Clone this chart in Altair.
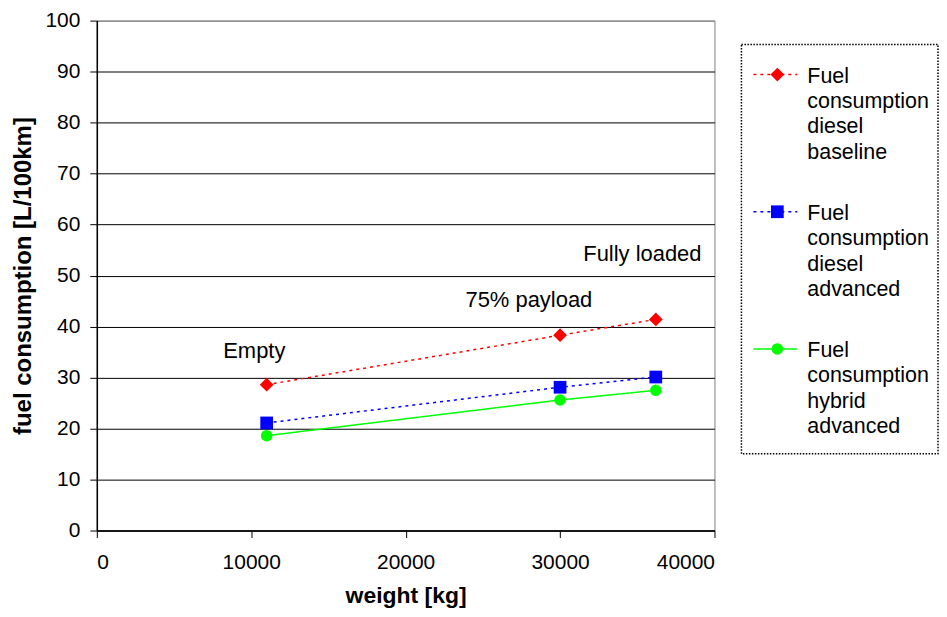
import altair as alt
import pandas as pd

# ---- data ----
weights = [11000, 30000, 36200]
series_names = [
    "Fuel consumption diesel baseline",
    "Fuel consumption diesel advanced",
    "Fuel consumption hybrid advanced",
]
diesel_baseline = [28.6, 38.3, 41.4]
diesel_advanced = [21.1, 28.1, 30.1]
hybrid_advanced = [18.6, 25.6, 27.5]

series_colors = ["#ff0000", "#0000ff", "#00ff00"]
series_shapes = ["diamond", "square", "circle"]
series_sizes = [190, 135, 125]
series_dashes = [[3, 4], [3, 4], [1, 0]]
series_widths = [1.5, 1.5, 2]

annot_text = ["Empty", "75% payload", "Fully loaded"]
annot_x = [10200, 27980, 35330]
annot_y = [35.3, 45.2, 54.2]

x_ticks = [0, 10000, 20000, 30000, 40000]
y_ticks = [0, 10, 20, 30, 40, 50, 60, 70, 80, 90, 100]

FONT = "Liberation Sans"

rows = []
for name, vals in zip(series_names, [diesel_baseline, diesel_advanced, hybrid_advanced]):
    for w, v in zip(weights, vals):
        rows.append({"series": name, "weight": w, "fuel": v})
df = pd.DataFrame(rows)

ann = pd.DataFrame({"text": annot_text, "weight": annot_x, "fuel": annot_y})

leg = pd.DataFrame({"series": series_names, "idx": list(range(len(series_names)))})

color_scale = alt.Scale(domain=series_names, range=series_colors)
shape_scale = alt.Scale(domain=series_names, range=series_shapes)
size_scale = alt.Scale(domain=series_names, range=series_sizes)
dash_scale = alt.Scale(domain=series_names, range=series_dashes)
width_scale = alt.Scale(domain=series_names, range=series_widths)

x_enc = alt.X(
    "weight:Q",
    title="weight [kg]",
    scale=alt.Scale(domain=[0, 40000], nice=False),
    axis=alt.Axis(
        values=x_ticks, grid=False, format="d", titleFontSize=23,
        labelPadding=14, titlePadding=12,
    ),
)
y_enc = alt.Y(
    "fuel:Q",
    title="fuel consumption [L/100km]",
    scale=alt.Scale(domain=[0, 100], nice=False),
    axis=alt.Axis(
        values=y_ticks,
        grid=True,
        titleFontSize=24,
        labelPadding=10,
        titlePadding=9,
        gridColor=alt.condition("datum.value == 100", alt.value("#808080"), alt.value("black")),
    ),
)

lines = alt.Chart(df).mark_line().encode(
    x=x_enc,
    y=y_enc,
    color=alt.Color("series:N", scale=color_scale, legend=None),
    strokeDash=alt.StrokeDash("series:N", scale=dash_scale, legend=None),
    strokeWidth=alt.StrokeWidth("series:N", scale=width_scale, legend=None),
    detail="series:N",
)

points = alt.Chart(df).mark_point(filled=True, opacity=1).encode(
    x="weight:Q",
    y="fuel:Q",
    color=alt.Color("series:N", scale=color_scale, legend=None),
    shape=alt.Shape("series:N", scale=shape_scale, legend=None),
    size=alt.Size("series:N", scale=size_scale, legend=None),
)

labels = alt.Chart(ann).mark_text(
    font=FONT, fontSize=22, color="black", align="center", baseline="middle"
).encode(x="weight:Q", y="fuel:Q", text="text:N")

main = alt.layer(lines, points, labels).properties(
    width=619, height=511, view=alt.ViewBackground(stroke="#808080", strokeWidth=1)
)

# ---- legend panel ----
leg_y = alt.Y(
    "idx:Q",
    axis=None,
    scale=alt.Scale(domain=[-0.393, 2.807], reverse=True, nice=False, zero=False),
)

frame = alt.Chart(pd.DataFrame({"a": [0]})).mark_rect(
    fill="white", stroke="black", strokeWidth=1.5, strokeDash=[1.5, 1.5]
).encode(x=alt.value(0), x2=alt.value(197), y=alt.value(24), y2=alt.value(434))

leg_rule = alt.Chart(leg).mark_rule().encode(
    x=alt.value(12),
    x2=alt.value(56),
    y=leg_y,
    color=alt.Color("series:N", scale=color_scale, legend=None),
    strokeDash=alt.StrokeDash("series:N", scale=dash_scale, legend=None),
    strokeWidth=alt.StrokeWidth("series:N", scale=width_scale, legend=None),
)
leg_pt = alt.Chart(leg).mark_point(filled=True, opacity=1).encode(
    x=alt.value(36),
    y=leg_y,
    color=alt.Color("series:N", scale=color_scale, legend=None),
    shape=alt.Shape("series:N", scale=shape_scale, legend=None),
    size=alt.Size("series:N", scale=size_scale, legend=None),
)
leg_txt = alt.Chart(leg).mark_text(
    font=FONT, fontSize=21.5, align="left", baseline="alphabetic", dy=8,
    lineBreak=" ", lineHeight=25.5, color="black",
).encode(x=alt.value(66), y=leg_y, text="series:N")

legend_panel = alt.layer(frame, leg_rule, leg_pt, leg_txt).properties(
    width=197, height=440, view=alt.ViewBackground(stroke=None)
)

chart = (
    alt.hconcat(main, legend_panel, spacing=25)
    .properties(padding={"left": 3, "top": 0, "right": 0, "bottom": 0})
    .configure_axis(
        labelFont=FONT,
        titleFont=FONT,
        labelFontSize=21,
        titleFontSize=22,
        titleFontWeight="bold",
        labelColor="black",
        titleColor="black",
        domainColor="black",
        domainWidth=1.5,
        tickColor="black",
        tickSize=7,
        gridColor="black",
        gridWidth=1,
        gridOpacity=1,
    )
)

chart.save("out.html", embed_options={"renderer": "svg", "actions": False})
